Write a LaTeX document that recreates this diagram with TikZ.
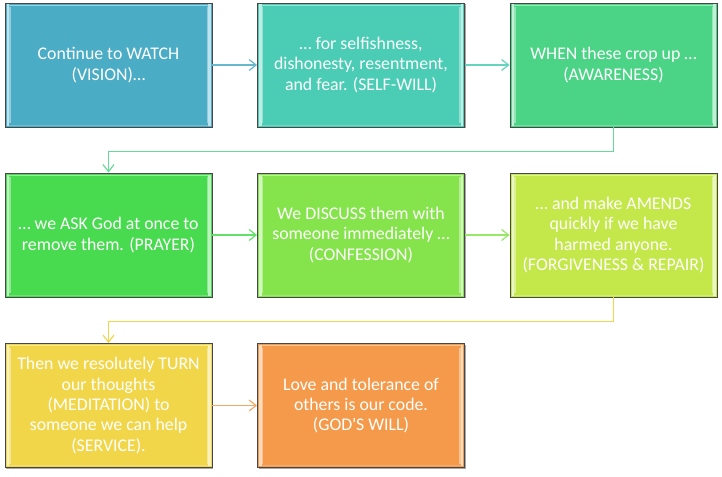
\documentclass[tikz,border=0pt]{standalone}
\usepackage{fontspec}
\newfontfamily\carlito{Carlito}
\usetikzlibrary{arrows.meta,shadows}
\definecolor{c1}{HTML}{4BACC6}
\definecolor{c2}{HTML}{4ACDB4}
\definecolor{c3}{HTML}{4BD486}
\definecolor{c4}{HTML}{48DA4F}
\definecolor{c5}{HTML}{85E44B}
\definecolor{c6}{HTML}{C4E84A}
\definecolor{c7}{HTML}{F2D64A}
\definecolor{c8}{HTML}{F49A4A}
\tikzset{
  box/.style={draw=black!72, line width=0.9pt, minimum width=207pt, minimum height=124pt,
    inner sep=0pt, text=white, align=center, fill=#1,
    font=\carlito\fontsize{17.8}{20.3}\selectfont,
    drop shadow={shadow xshift=1.2pt, shadow yshift=-1.2pt, opacity=0.35, fill=black},
    path picture={
      \fill[#1!35!white] ([xshift=1.5pt,yshift=-1.5pt]path picture bounding box.north west) rectangle ([xshift=4pt,yshift=1.5pt]path picture bounding box.south west);
      \fill[#1!35!white] ([xshift=-4pt,yshift=-1.5pt]path picture bounding box.north east) rectangle ([xshift=-1.5pt,yshift=1.5pt]path picture bounding box.south east);
      \fill[#1!60!white] ([xshift=4pt,yshift=-4pt]path picture bounding box.north west) rectangle ([xshift=5.5pt,yshift=4pt]path picture bounding box.south west);
      \fill[#1!60!white] ([xshift=-5.5pt,yshift=-4pt]path picture bounding box.north east) rectangle ([xshift=-4pt,yshift=4pt]path picture bounding box.south east);
      \draw[#1!55!white, line width=0.8pt] ([xshift=4pt,yshift=-2pt]path picture bounding box.north west) -- ([xshift=-4pt,yshift=-2pt]path picture bounding box.north east);
      \draw[#1!80!white, line width=0.8pt] ([xshift=4pt,yshift=2pt]path picture bounding box.south west) -- ([xshift=-4pt,yshift=2pt]path picture bounding box.south east);
    }},
  arr/.style={line width=1.2pt, -{Straight Barb[length=7pt,width=11pt,line width=1.2pt]}},
}
\begin{document}
\begin{tikzpicture}[x=1pt,y=-1pt]
\useasboundingbox (0,0) rectangle (722,476);
\node[box=c1] (b1) at (108.5,65) {Continue to WATCH\\(VISION)…};
\node[box=c2] (b2) at (361,65) {… for selfishness,\\dishonesty, resentment,\\and fear. (SELF-WILL)};
\node[box=c3] (b3) at (613.5,65) {WHEN these crop up …\\(AWARENESS)};
\node[box=c4] (b4) at (108.5,235) {… we ASK God at once to\\remove them. (PRAYER)};
\node[box=c5] (b5) at (361,235) {We DISCUSS them with\\someone immediately …\\(CONFESSION)};
\node[box=c6] (b6) at (613.5,235) {… and make AMENDS\\quickly if we have\\harmed anyone.\\(FORGIVENESS \& REPAIR)};
\node[box=c7] (b7) at (108.5,405.5) {Then we resolutely TURN\\our thoughts\\(MEDITATION) to\\someone we can help\\(SERVICE).};
\node[box=c8] (b8) at (361,405.5) {Love and tolerance of\\others is our code.\\(GOD'S WILL)};
\draw[arr, c1!85!white] (b1) -- (b2);
\draw[arr, c2!85!white] (b2) -- (b3);
\draw[arr, c3!85!white] (b3.south) -- ++(0,24) -| (b4.north);
\draw[arr, c4!85!white] (b4) -- (b5);
\draw[arr, c5!85!white] (b5) -- (b6);
\draw[arr, c7] (b6.south) -- ++(0,24) -| (b7.north);
\draw[arr, c8!85!white] (b7) -- (b8);
\end{tikzpicture}
\end{document}
